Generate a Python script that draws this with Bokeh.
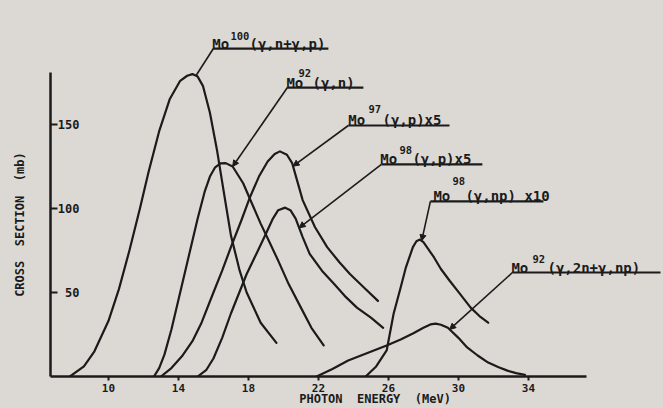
import numpy as np
from bokeh.plotting import figure
from bokeh.models import (Range1d, FixedTicker, LinearAxis, Arrow, NormalHead,
                          GlobalInlineStyleSheet)
from bokeh.core.properties import value
from bokeh.embed import file_html
from bokeh.resources import INLINE

# ---------------- data (photon energy in MeV, cross section in mb) -------------
mo100_E = [7.8, 8.6, 9.2, 10.0, 10.6, 11.2, 11.8, 12.3, 12.9, 13.5, 14.1, 14.5, 14.8,
           15.1, 15.4, 15.8, 16.2, 16.7, 17.0, 17.5, 17.9, 18.7, 19.6]
mo100_S = [0, 6, 15, 33, 52, 75, 100, 122, 146, 165, 176, 179, 180,
           178.5, 173, 157, 135, 103, 84, 63, 50, 32, 20]

mo92n_E = [12.6, 12.9, 13.2, 13.6, 14.1, 14.6, 15.1, 15.5, 15.8, 16.1, 16.4, 16.7, 17.1,
           17.7, 18.2, 18.7, 19.2, 19.7, 20.3, 21.0, 21.6, 22.3]
mo92n_S = [0, 5, 13, 28, 50, 72, 94, 110, 119, 124.5, 126.8, 127, 125,
           115, 103, 91, 80, 69, 55, 41, 29, 18.5]

mo97_E = [13.0, 13.6, 14.2, 14.8, 15.3, 16.0, 16.5, 17.0, 17.6, 18.1, 18.6, 19.1, 19.5,
          19.8, 20.2, 20.5, 21.1, 21.8, 22.5, 23.2, 23.8, 24.6, 25.4]
mo97_S = [0, 5, 12, 21, 31.5, 50, 63, 77, 93, 107, 119, 128, 132.5,
          134, 132, 127, 105, 89, 77, 68, 61, 53, 45]

mo98p_E = [15.1, 15.6, 16.0, 16.5, 17.0, 17.9, 18.5, 19.0, 19.4, 19.7, 20.1, 20.4, 20.7,
           21.1, 21.5, 22.2, 22.9, 23.5, 24.2, 25.0, 25.7]
mo98p_S = [0, 4, 10.7, 23, 37.5, 61, 74, 85, 94, 99, 100.5, 99, 94,
           83, 73, 63, 55, 48, 41, 35, 29]

mo98np_E = [24.7, 25.3, 25.9, 26.3, 26.7, 27.0, 27.4, 27.6, 27.8, 28.0, 28.2, 28.6,
            29.0, 29.5, 30.1, 30.7, 31.2, 31.7]
mo98np_S = [0, 6, 15.5, 37.5, 53, 65, 77, 80.5, 81.5, 80, 77, 71,
            64, 57, 49, 41, 36, 32]

mo92_2n_E = [21.9, 22.8, 23.7, 24.8, 25.9, 26.7, 27.4, 28.0, 28.4, 28.7, 29.0, 29.4,
             30.0, 30.5, 31.1, 31.7, 32.3, 32.8, 33.3, 33.8]
mo92_2n_S = [0, 4.5, 9.5, 14, 18.5, 22, 25.6, 29, 31, 31.5, 30.8, 29,
             23, 17.3, 12.5, 8.3, 5.5, 3.5, 2, 1]

series = [(mo100_E, mo100_S), (mo92n_E, mo92n_S), (mo97_E, mo97_S),
          (mo98p_E, mo98p_S), (mo98np_E, mo98np_S), (mo92_2n_E, mo92_2n_S)]

x_ticks = [10, 14, 18, 22, 26, 30, 34]
y_ticks = [50, 100, 150]

# labels: nucleus, mass number (superscript), reaction
lab_main = ["Mo", "Mo", "Mo", "Mo", "Mo", "Mo"]
lab_sup = ["100", "92", "97", "98", "98", "92"]
lab_rest = ["(γ,n+γ,p)", "(γ,n)", "(γ,p)x5", "(γ,p)x5", "(γ,np) x10", "(γ,2n+γ,np)"]
tip_E = [15.0, 17.1, 20.55, 20.9, 27.9, 29.5]   # where each leader touches its curve

# ---------------- layout of the annotations (data units) ------------------------
main_x = [15.94, 20.17, 23.71, 25.54, 28.57, 33.03]
main_y = [198.2, 174.4, 152.4, 129.2, 107.7, 64.3]
sup_x = [16.97, 20.86, 24.86, 26.63, 29.66, 34.23]
sup_y = [202.4, 180.4, 159.5, 135.1, 116.1, 70.2]
rest_x = [18.06, 21.66, 25.66, 27.37, 30.40, 35.09]
ul_x0 = [16.0, 20.23, 23.71, 25.60, 28.40, 33.09]
ul_x1 = [22.57, 24.57, 29.49, 31.37, 34.86, 41.55]
ul_y = [195.2, 172.0, 149.4, 126.2, 104.2, 61.9]
has_head = [False, True, True, True, True, True]

INK = "#1b1b1b"
BG = "#dcd9d4"
FONT = "DejaVu Sans Mono"
NB = "\u00a0"

p = figure(width=663, height=408, output_backend="svg", toolbar_location=None,
           x_range=Range1d(6.69, 41.72), y_range=Range1d(0, 223.8),
           x_axis_location=None, y_axis_location=None,
           min_border_left=50, min_border_right=0, min_border_top=0,
           min_border_bottom=32)
p.background_fill_color = BG
p.border_fill_color = BG
p.outline_line_color = None
p.xgrid.visible = False
p.ygrid.visible = False
p.stylesheets = [GlobalInlineStyleSheet(css=f"body {{ background: {BG}; }}")]

# axes
xa = LinearAxis(ticker=FixedTicker(ticks=x_ticks), bounds=(6.69, 37.3),
                axis_label=NB * 5 + f"PHOTON{NB} ENERGY{NB} (MeV)")
xa.axis_line_width = 2.5
xa.axis_line_color = INK
xa.major_tick_line_color = INK
xa.major_tick_line_width = 2
xa.major_tick_in = 0
xa.major_tick_out = 4
xa.minor_tick_line_color = None
xa.major_label_standoff = 3
xa.major_label_text_font = FONT
xa.major_label_text_font_style = "bold"
xa.major_label_text_font_size = "11px"
xa.major_label_text_color = INK
xa.axis_label_standoff = -3
xa.axis_label_text_font = FONT
xa.axis_label_text_font_style = "bold"
xa.axis_label_text_font_size = "12px"
xa.axis_label_text_color = INK
p.add_layout(xa, "below")

ya = LinearAxis(ticker=FixedTicker(ticks=y_ticks), bounds=(0, 181),
                axis_label=f"CROSS{NB} SECTION{NB} (mb)" + NB * 10)
ya.axis_line_width = 2.5
ya.axis_line_color = INK
ya.major_tick_line_color = INK
ya.major_tick_line_width = 2
ya.major_tick_in = 7
ya.major_tick_out = 0
ya.minor_tick_line_color = None
ya.major_label_standoff = -29
ya.major_label_text_font = FONT
ya.major_label_text_font_style = "bold"
ya.major_label_text_font_size = "12px"
ya.major_label_text_color = INK
ya.major_label_orientation = "horizontal"
ya.axis_label_standoff = 28
ya.axis_label_text_font = FONT
ya.axis_label_text_font_style = "bold"
ya.axis_label_text_font_size = "12px"
ya.axis_label_text_color = INK
p.add_layout(ya, "left")

# curves
for E, S in series:
    p.line(E, S, line_width=2.2, line_color=INK, line_join="round", line_cap="round")

# labels
p.text(main_x, main_y, text=lab_main, text_font=value(FONT), text_font_style="bold",
       text_font_size="14px", text_color=INK, text_baseline="alphabetic", text_align="left")
p.text(sup_x, sup_y, text=lab_sup, text_font=value(FONT), text_font_style="bold",
       text_font_size="10.5px", text_color=INK, text_baseline="alphabetic", text_align="left")
p.text(rest_x, main_y, text=lab_rest, text_font=value(FONT), text_font_style="bold",
       text_font_size="14px", text_color=INK, text_baseline="alphabetic", text_align="left")
p.segment(ul_x0, ul_y, ul_x1, ul_y, line_width=2.2, line_color=INK)

# leaders from underline start to the curve
for (E, S), te, x0, y0, hh in zip(series, tip_E, ul_x0, ul_y, has_head):
    ty = float(np.interp(te, E, S))
    head = NormalHead(size=6, fill_color=INK, line_color=INK) if hh else None
    p.add_layout(Arrow(end=head, x_start=x0, y_start=y0, x_end=te, y_end=ty,
                       line_width=1.6, line_color=INK))

open("out.html", "w").write(file_html(p, INLINE))
